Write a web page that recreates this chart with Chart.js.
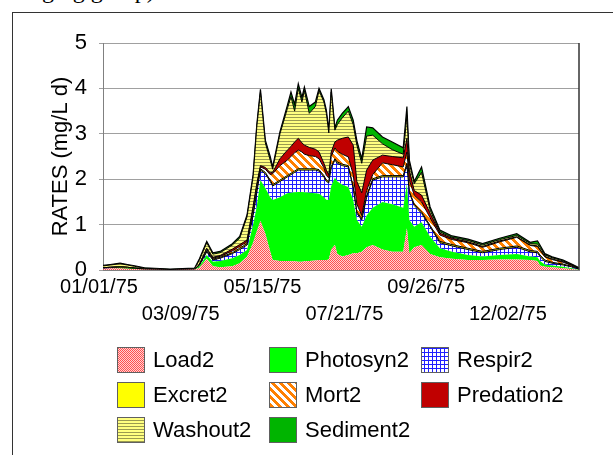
<!DOCTYPE html>
<html>
<head>
<meta charset="utf-8">
<script src="https://cdn.jsdelivr.net/npm/chart.js@4.4.1/dist/chart.umd.min.js"></script>
<style>
  html, body { margin: 0; padding: 0; background: #fff; overflow: hidden; }
  #wrap { position: relative; width: 613px; height: 455px; overflow: hidden; }
  #frame { position: absolute; left: 12px; top: 12px; width: 700px; height: 600px; border: 1px solid #333; }
  #above { position: absolute; left: 42px; top: -22px; font-family: "Liberation Serif"; font-size: 24px; line-height: 24px; white-space: nowrap; }
  canvas { position: absolute; left: 0; top: 0; }
</style>
</head>
<body>
<div id="wrap">
  <div id="above">ging group)</div>
  <div id="frame"></div>
  <canvas id="chart" width="613" height="455"></canvas>
</div>
<script>
// jours depuis le 01/01/75
const days = [0,6,14,20,26,34,55,75,79,85, 90,96,106,112,118,123,126,129,133,137,
  139,145,151,154,157,160,163,165,169,174, 177,181,183,185,187,190,192,196,201,205,
  208,212,216,221,229,237,246,249,251,255, 261,268,276,286,299,311,325,339,350,356,
  358,362,368,377,384,390];

const tickDays = [0, 67, 134, 201, 268, 335];
const tickLabels = ['01/01/75', '03/09/75', '05/15/75', '07/21/75', '09/26/75', '12/02/75'];

const seriesNames = ['Load2', 'Photosyn2', 'Respir2', 'Excret2', 'Mort2', 'Predation2', 'Washout2', 'Sediment2'];

const load2 = [.03,.04,.04,.03,.02,.01,0,.01,.05,.25, .08,.06,.08,.15,.29,.60,.85,1.08,.80,.40,
  .22,.20,.20,.19,.19,.18,.18,.19,.20,.21, .22,.22,.22,.23,.45,.55,.35,.30,.33,.37,
  .37,.40,.50,.55,.45,.40,.40,.92,.37,.50, .55,.35,.28,.25,.22,.22,.23,.23,.22,.20,
  .10,.07,.06,.04,.02,0];
const photosyn2 = [0,0,.01,.01,.01,0,0,0,.03,.08, .10,.14,.18,.18,.15,.40,.55,.90,1.00,1.20,
  1.32,1.40,1.49,1.51,1.52,1.54,1.54,1.52,1.50,1.48, 1.46,1.38,1.33,1.31,1.40,1.48,1.60,1.58,1.50,1.17,
  .73,.55,.70,.82,1.05,1.05,.97,.98,.73,.45, .50,.38,.20,.15,.11,.08,.10,.12,.08,.08,
  .10,.05,.04,.03,.02,.01];
const respir2 = [.01,.01,0,0,0,0,0,0,.02,.07, .04,.06,.10,.12,.11,.20,.30,.22,.32,.35,
  .31,.35,.36,.40,.44,.48,.48,.49,.50,.51, .50,.45,.40,.38,.40,.39,.40,.42,.44,.26,
  .15,.15,.40,.61,.55,.60,.68,.40,.60,.47, .20,.22,.12,.13,.12,.08,.12,.15,.10,.10,
  .10,.07,.05,.04,.03,.01];
const excret2 = [.01,.01,.02,.02,.01,.01,0,0,.01,.02, .02,.02,.02,.03,.03,.05,.05,.03,.03,.03,
  .03,.03,.03,.03,.03,.03,.03,.03,.03,.03, .03,.03,.03,.03,.03,.03,.03,.03,.03,.03,
  .03,.03,.03,.03,.03,.03,.03,.05,.03,.03, .03,.03,.03,.03,.03,.03,.03,.03,.03,.03,
  .03,.03,.02,.02,.01,0];
const mort2 = [0,0,0,0,0,0,0,0,.01,.03, .02,.02,.04,.04,.04,.10,.10,.04,.07,.12,
  .24,.32,.34,.37,.40,.41,.37,.32,.29,.27, .24,.17,.10,.08,.22,.24,.24,.22,.19,.27,
  .17,.07,.12,.09,.28,.24,.19,.25,.25,.20, .22,.17,.14,.11,.12,.09,.14,.19,.11,.11,
  .11,.07,.06,.04,.02,.01];
const predation2 = [0,0,0,0,0,0,0,0,.01,.03, .02,.02,.04,.04,.04,.05,.05,.03,.04,.04,
  .03,.15,.22,.22,.24,.26,.20,.20,.18,.16, .15,.10,.12,.07,.10,.13,.24,.35,.44,.65,
  .50,.50,.45,.32,.17,.18,.20,.30,.22,.10, .15,.10,.04,.03,.02,.02,.02,.01,.01,.01,
  .01,.01,.01,.01,.01,0];
const washout2 = [.04,.05,.07,.05,.04,.02,.01,.02,.09,.12, .07,.06,.09,.14,.51,.65,1.25,1.62,.54,.28,
  .07,.55,.91,1.10,.68,1.10,.90,1.20,.75,.94, 1.35,1.35,1.25,.92,1.32,.26,.34,.45,.57,.45,
  .80,.65,.75,.55,.25,.15,.08,.50,.15,.15, .50,.07,.03,.02,.03,.03,.03,.03,.03,.04,
  .05,.03,.03,.02,.01,.01];
const sediment2 = [.01,.01,.01,.01,.01,.01,.01,.01,.03,.03, .03,.03,.03,.04,.04,.05,.05,.06,.06,.08,
  .05,.05,.07,.10,.15,.10,.10,.08,.15,.10, .05,.05,.07,.06,.07,.05,.10,.10,.10,.10,
  .10,.10,.20,.16,.15,.17,.14,.20,.07,.05, .12,.07,.04,.03,.03,.03,.03,.04,.03,.07,
  .05,.03,.02,.02,.01,.01];

const allValues = [load2, photosyn2, respir2, excret2, mort2, predation2, washout2, sediment2];

const canvas = document.getElementById('chart');
const ctx = canvas.getContext('2d');

// motifs de remplissage façon Excel
function makePattern(w, h, paint) {
  const c = document.createElement('canvas');
  c.width = w; c.height = h;
  paint(c.getContext('2d'), w, h);
  return ctx.createPattern(c, 'repeat');
}

const loadPat = makePattern(2, 2, g => {
  g.fillStyle = '#ffd4d4'; g.fillRect(0, 0, 2, 2);
  g.fillStyle = '#ff5050'; g.fillRect(0, 0, 1, 1); g.fillRect(1, 1, 1, 1);
});
const respirPat = makePattern(4, 4, g => {
  g.fillStyle = '#ffffff'; g.fillRect(0, 0, 4, 4);
  g.fillStyle = '#2020ff'; g.fillRect(0, 0, 4, 1); g.fillRect(0, 0, 1, 4);
});
const mortPat = makePattern(8, 8, g => {
  g.fillStyle = '#ffffff'; g.fillRect(0, 0, 8, 8);
  g.fillStyle = '#ff8000';
  for (let x = 0; x < 8; x++) {
    for (let y = 0; y < 8; y++) {
      if (((x - y) % 8 + 8) % 8 < 4) g.fillRect(x, y, 1, 1);
    }
  }
});
const washPat = makePattern(1, 3, g => {
  g.fillStyle = '#ffff80'; g.fillRect(0, 0, 1, 3);
  g.fillStyle = '#9a9a50'; g.fillRect(0, 0, 1, 1);
});

const fills = [loadPat, '#00ff00', respirPat, '#ffff00', mortPat, '#c00000', washPat, '#00b400'];
const borders = [0, 0, 1, 1, 1, 1, 1, 1.2];

const datasets = seriesNames.map((name, i) => ({
  label: name,
  data: days.map((d, j) => ({ x: d, y: allValues[i][j] })),
  backgroundColor: fills[i],
  borderColor: '#000000',
  borderWidth: borders[i],
  fill: i === 0 ? 'origin' : '-1',
  pointRadius: 0,
  tension: 0
}));

// légende en 3 colonnes, dessinée sur le canvas
const gridLegend = {
  id: 'gridLegend',
  afterDraw(chart) {
    const c = chart.ctx;
    const colX = [117, 269, 421];
    const rowY = [347, 382, 417];
    c.save();
    c.font = '22px "Liberation Sans", Arial, sans-serif';
    c.textBaseline = 'middle';
    chart.data.datasets.forEach((ds, i) => {
      const x = colX[i % 3], y = rowY[Math.floor(i / 3)];
      c.fillStyle = ds.backgroundColor;
      c.fillRect(x, y, 28, 26);
      c.strokeStyle = '#606060';
      c.lineWidth = 1;
      c.strokeRect(x + 0.5, y + 0.5, 27, 25);
      c.fillStyle = '#000';
      c.fillText(ds.label, x + 36, y + 14);
    });
    c.restore();
  }
};

// bord droit de la zone de tracé
const rightEdge = {
  id: 'rightEdge',
  afterDatasetsDraw(chart) {
    const a = chart.chartArea;
    const c = chart.ctx;
    c.save();
    c.strokeStyle = '#333';
    c.lineWidth = 1.5;
    c.beginPath();
    c.moveTo(a.right, a.top);
    c.lineTo(a.right, a.bottom);
    c.stroke();
    c.restore();
  }
};

new Chart(ctx, {
  type: 'line',
  data: { datasets },
  options: {
    responsive: false,
    animation: false,
    layout: { padding: { left: 0, top: 43, right: 34, bottom: 0 } },
    plugins: { legend: { display: false }, tooltip: { enabled: false } },
    scales: {
      x: {
        type: 'linear',
        min: 0,
        max: 390,
        afterBuildTicks(scale) { scale.ticks = tickDays.map(v => ({ value: v })); },
        afterFit(scale) { scale.height = 185; },
        grid: { drawOnChartArea: false, drawTicks: false },
        border: { color: '#808080', width: 1 },
        ticks: {
          autoSkip: false,
          maxRotation: 0,
          padding: 4,
          labelOffset: -4,
          color: '#000',
          font: { family: '"Liberation Sans", Arial, sans-serif', size: 20, lineHeight: 1.35 },
          callback(value, index) {
            const i = tickDays.indexOf(value);
            const txt = tickLabels[i];
            return i % 2 === 1 ? ['', txt] : txt;
          }
        }
      },
      y: {
        stacked: true,
        min: 0,
        max: 5,
        afterFit(scale) { scale.width = 103; },
        grid: { color: '#a0a0a0', lineWidth: 1, tickLength: 4 },
        border: { color: '#808080', width: 1 },
        ticks: {
          stepSize: 0.5,
          padding: 12,
          color: '#000',
          font: { family: '"Liberation Sans", Arial, sans-serif', size: 22 },
          callback(v) { return Number.isInteger(v) ? String(v) : ''; }
        },
        title: {
          display: true,
          text: 'RATES (mg/L d)',
          color: '#000',
          padding: { top: 48, bottom: 0 },
          font: { family: '"Liberation Sans", Arial, sans-serif', size: 22 }
        }
      }
    }
  },
  plugins: [gridLegend, rightEdge]
});
</script>
</body>
</html>
